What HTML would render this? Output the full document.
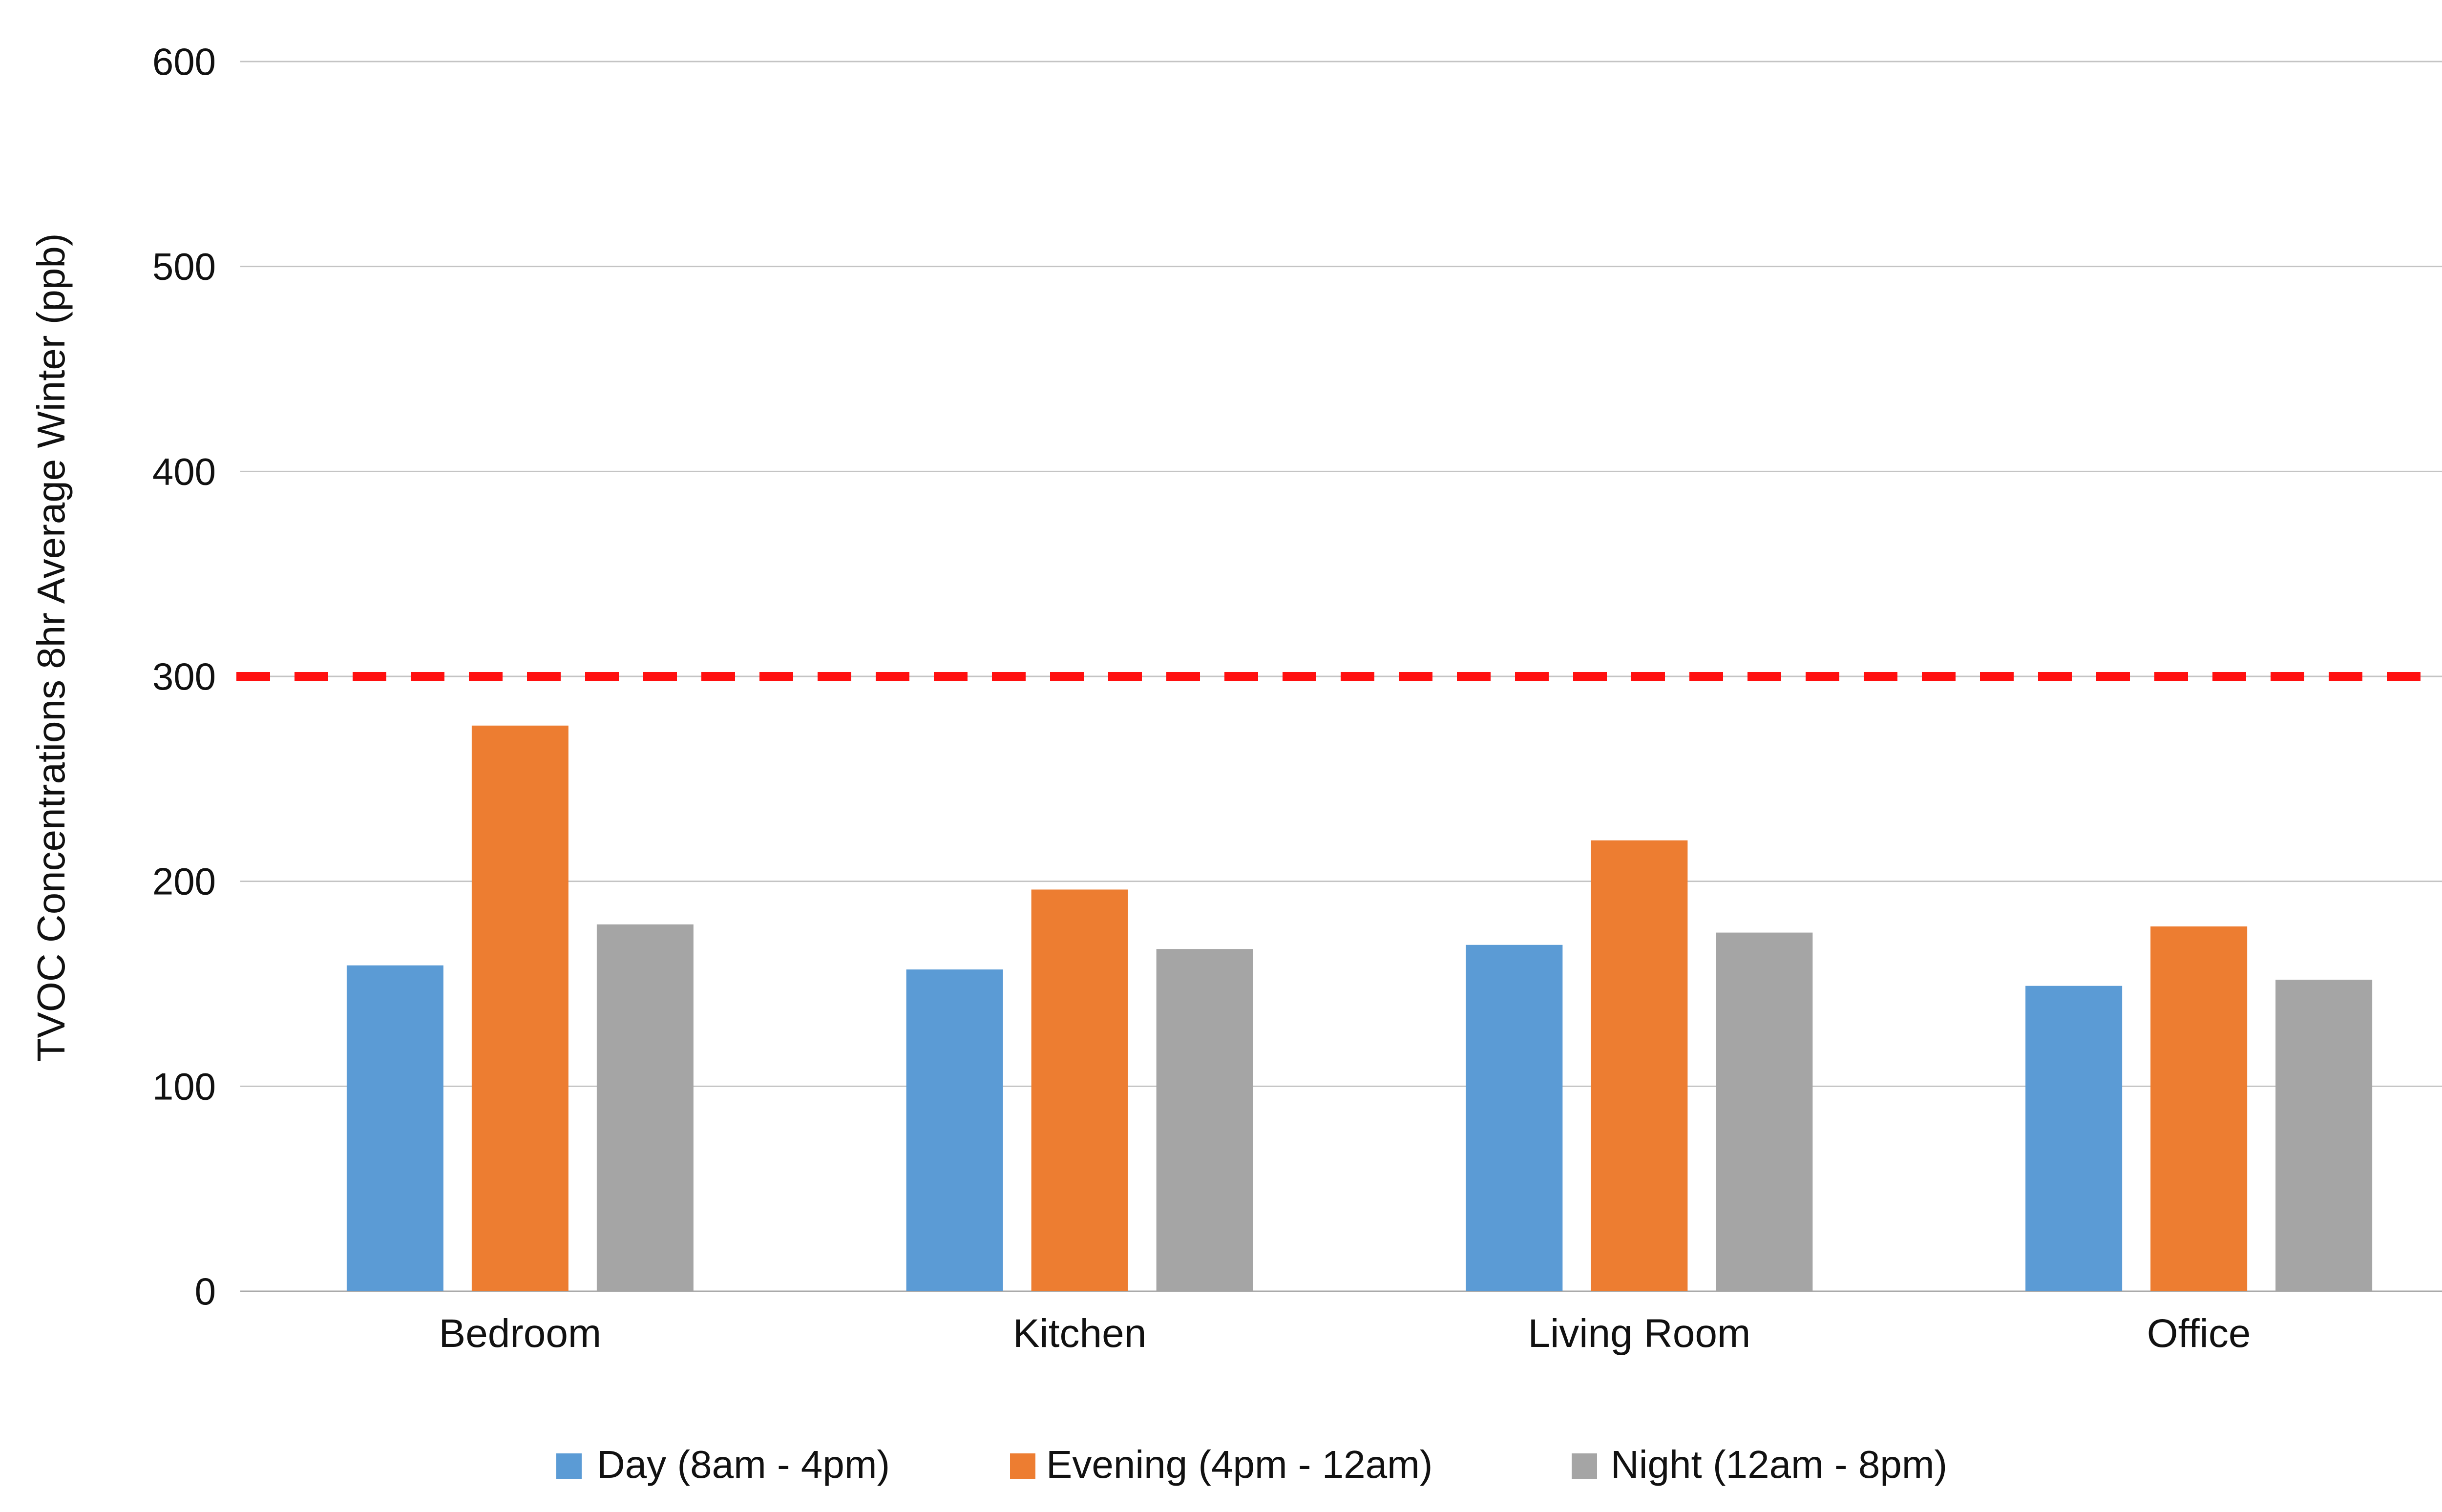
<!DOCTYPE html>
<html><head><meta charset="utf-8"><style>
html,body{margin:0;padding:0;background:#fff;}
svg{display:block;font-family:"Liberation Sans","DejaVu Sans",sans-serif;}
</style></head><body>
<svg id="chart" width="5208" height="3096" viewBox="0 0 5208 3096" xmlns="http://www.w3.org/2000/svg">
<rect width="5208" height="3096" fill="#fff"/>
<g id="grid"></g>
<g id="yticks"></g>
<g id="bars"></g>
<g id="xlabels"></g>
<line id="threshold" stroke="#ff1010" stroke-width="18" stroke-dasharray="69 50"/>
<text transform="translate(132,1326) rotate(-90)" text-anchor="middle" font-size="80" fill="#111">TVOC Concentrations 8hr Average Winter (ppb)</text>
<g>
<g><rect x="1139" y="2976" width="52" height="52" fill="#5b9bd5"/><text x="1222" y="3026" font-size="80" fill="#111">Day (8am - 4pm)</text></g>
<g><rect x="2068" y="2976" width="52" height="52" fill="#ed7d31"/><text x="2142" y="3026" font-size="80" fill="#111">Evening (4pm - 12am)</text></g>
<g><rect x="3218" y="2976" width="52" height="52" fill="#a5a5a5"/><text x="3298" y="3026" font-size="80" fill="#111">Night (12am - 8pm)</text></g>
</g>
</svg>
<script>
const categories = ["Bedroom","Kitchen","Living Room","Office"];
const dayValues = [159,157,169,149];
const eveningValues = [276,196,220,178];
const nightValues = [179,167,175,152];
const yTicks = [0,100,200,300,400,500,600];
const thresholdValue = 300;

const NS="http://www.w3.org/2000/svg";
const L=492,R=5075,T=126,B=2644,YMAX=600;
const y=v=>B-(v/YMAX)*(B-T);
const catW=(R-L)/categories.length;
const barW=198, barGap=58;
const series=[{v:dayValues,c:"#5b9bd5",n:"day"},{v:eveningValues,c:"#ed7d31",n:"evening"},{v:nightValues,c:"#a5a5a5",n:"night"}];
const x=(ci,si)=>L+catW*(ci+0.5)+(si-1)*(barW+barGap)-barW/2;
function mk(tag,attrs,parent){const e=document.createElementNS(NS,tag);for(const k in attrs)e.setAttribute(k,attrs[k]);parent.appendChild(e);return e;}
const grid=document.getElementById('grid'),yt=document.getElementById('yticks'),bars=document.getElementById('bars'),xl=document.getElementById('xlabels');
yTicks.forEach(t=>{
  const ln=mk('line',{x1:L,x2:R,y1:y(t),y2:y(t),stroke:t===0?"#aaa":"#c4c4c4","stroke-width":3},grid);
  
  
  const tx=mk('text',{x:442,y:y(t)+27,"text-anchor":"end","font-size":78,fill:"#111"},yt);
  tx.textContent=t;
  
  
});
categories.forEach((c,ci)=>{
  series.forEach((s,si)=>{
    const r=mk('rect',{x:x(ci,si),y:y(s.v[ci]),width:barW,height:B-y(s.v[ci]),fill:s.c},bars);
    
    
  });
  const t=mk('text',{x:L+catW*(ci+0.5),y:2758,"text-anchor":"middle","font-size":82,fill:"#111"},xl);
  t.textContent=c;
  
  
});
const th=document.getElementById('threshold');
th.setAttribute('x1',484);th.setAttribute('x2',R);
th.setAttribute('y1',y(thresholdValue));th.setAttribute('y2',y(thresholdValue));
document.getElementById('chart').appendChild(th);
</script>
</body></html>
